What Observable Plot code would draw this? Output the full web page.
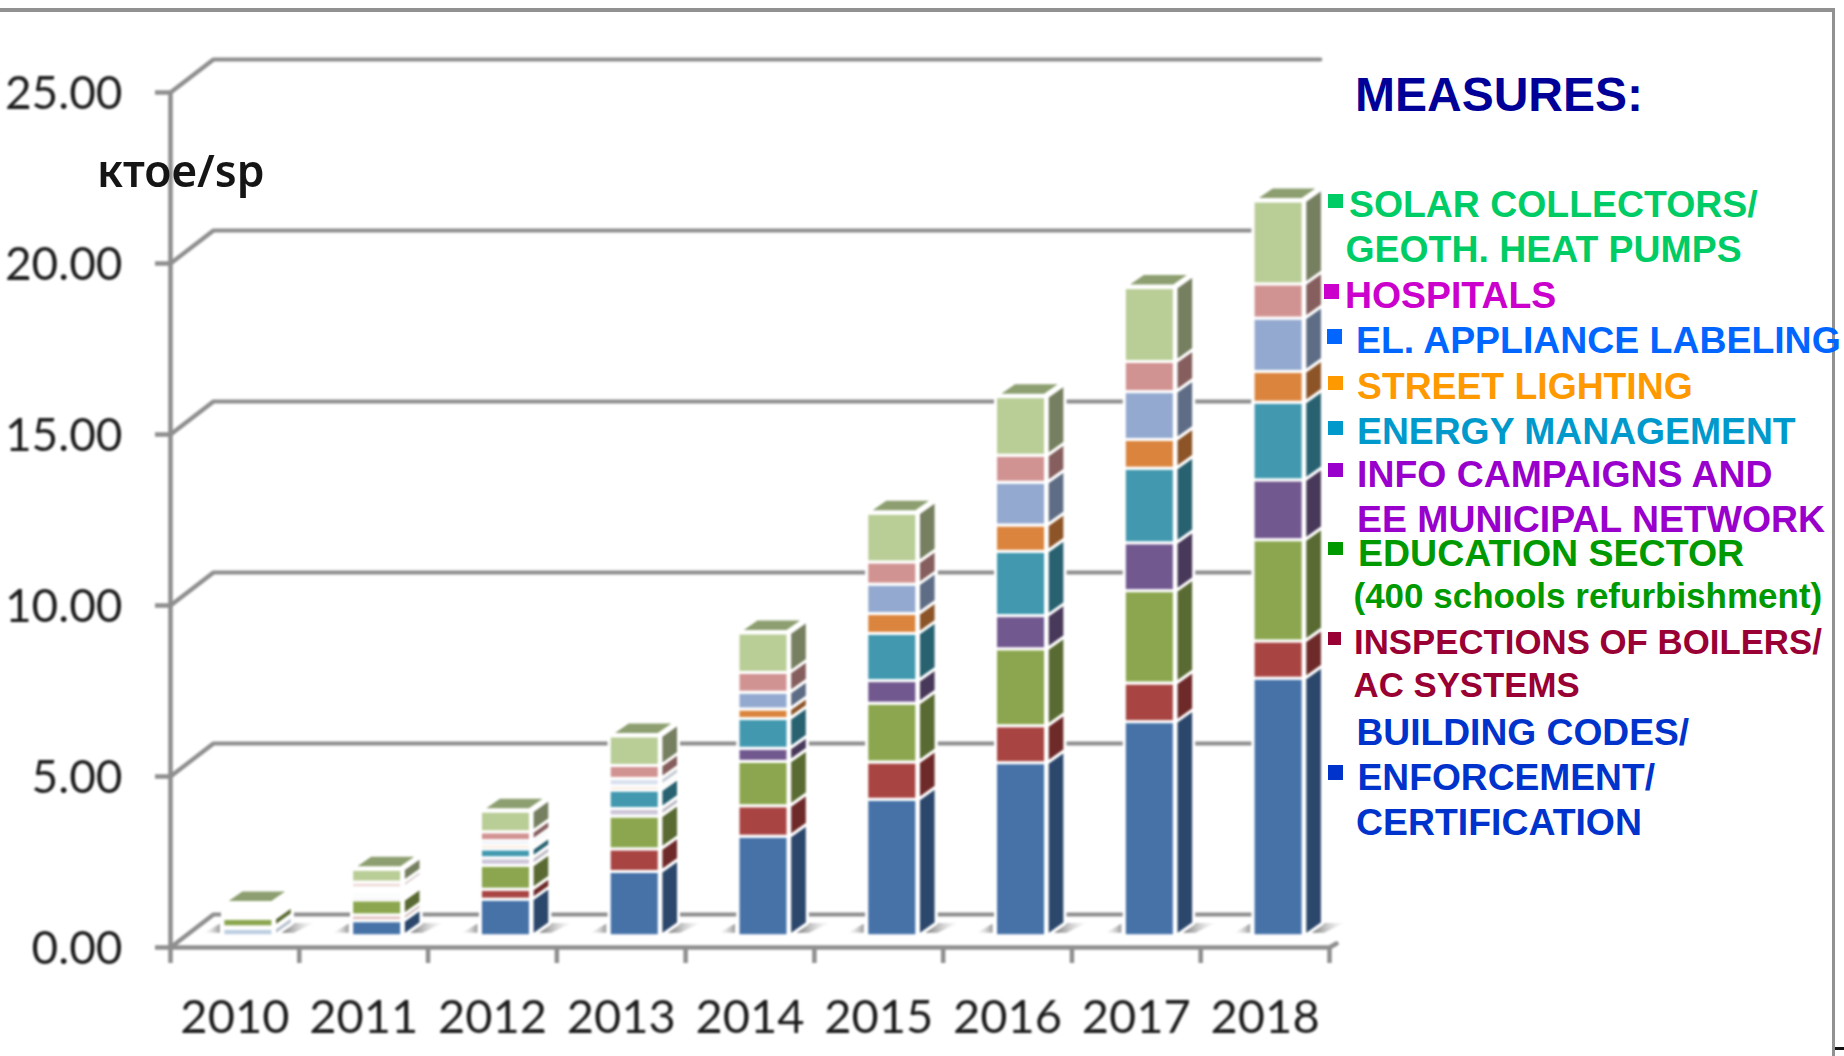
<!DOCTYPE html>
<html>
<head>
<meta charset="utf-8">
<title>Measures</title>
<script src="https://cdn.jsdelivr.net/npm/d3@7"></script>
<script src="https://cdn.jsdelivr.net/npm/@observablehq/plot@0.6"></script>
<style>
html,body{margin:0;padding:0;background:#fff;overflow:hidden}
#page{position:relative;width:1844px;height:1056px;overflow:hidden;background:#fff}
#chart{position:absolute;left:0;top:0}
#chart svg{filter:blur(0.8px)}
.lg{position:absolute;white-space:nowrap;font-family:"Liberation Sans",Arial,sans-serif;font-weight:700;line-height:1}
.sq{position:absolute}
.fr{position:absolute;background:#919191}
#unit{position:absolute;left:97px;top:148px;font:600 44.5px/1 "Noto Sans",sans-serif;color:#151515;filter:blur(0.6px)}
</style>
</head>
<body>
<div id="page"><div id="chart"></div></div>
<script>
// ---- data (ktoe/sp) ----
const years = [2010, 2011, 2012, 2013, 2014, 2015, 2016, 2017, 2018];
const buildingCodes = [0.22, 0.44, 1.07, 1.88, 2.91, 3.99, 5.06, 6.26, 7.53];
const inspections   = [0.04, 0.17, 0.29, 0.66, 0.89, 1.09, 1.08, 1.13, 1.09];
const education     = [0.25, 0.44, 0.70, 0.96, 1.30, 1.72, 2.25, 2.70, 2.96];
const infoCampaigns = [0.09, 0.10, 0.22, 0.22, 0.38, 0.66, 0.97, 1.40, 1.75];
const energyMgmt    = [0.08, 0.10, 0.26, 0.54, 0.87, 1.38, 1.88, 2.18, 2.27];
const streetLight   = [0.05, 0.08, 0.12, 0.12, 0.28, 0.58, 0.77, 0.84, 0.90];
const labeling      = [0.05, 0.07, 0.12, 0.22, 0.49, 0.86, 1.25, 1.40, 1.56];
const hospitals     = [0.07, 0.17, 0.26, 0.38, 0.58, 0.65, 0.79, 0.88, 1.00];
const solar         = [0.08, 0.37, 0.60, 0.86, 1.15, 1.42, 1.71, 2.16, 2.42];
const yTicks = [0, 5, 10, 15, 20, 25];
const unitLabel = "ктое/sp";
const legendTitle = "MEASURES:";
const legendLines = [
  "SOLAR COLLECTORS/", "GEOTH. HEAT PUMPS", "HOSPITALS", "EL. APPLIANCE LABELING",
  "STREET LIGHTING", "ENERGY MANAGEMENT", "INFO CAMPAIGNS AND", "EE MUNICIPAL NETWORK",
  "EDUCATION SECTOR", "(400 schools refurbishment)", "INSPECTIONS OF BOILERS/", "AC SYSTEMS",
  "BUILDING CODES/", "ENFORCEMENT/", "CERTIFICATION"
];

// ---- styles ----
const stackOrder = [buildingCodes, inspections, education, infoCampaigns, energyMgmt, streetLight, labeling, hospitals, solar];
const frontColors = ["#4672a8", "#a84442", "#8ba64e", "#71588f", "#4198af", "#db843d", "#93a9cf", "#d19392", "#b9cd96"];
const sideColors  = ["#2c476c", "#6e2a29", "#596a32", "#483859", "#286170", "#8c5427", "#5e6c85", "#855e5d", "#767f60"];
const topColor = "#8d9f70";
const gridColor = "#8e8e8e";

// ---- chart geometry, in scale units (years on x, ktoe/sp on y) ----
const pxX = 128.8, pxY = 34.2;       // pixels per unit
const xStart = 2009.5, xEnd = 2018.5;
const wallDx = 43 / pxX, wallDy = 33 / pxY, wallEnd = xStart + 1150 / pxX;
const barOffset = 13.5 / pxX, barW = 50 / pxX, gap = 1.7 / pxX, sideDx = 17.6 / pxX, sideDy = 12.5 / pxY;
const barBase = 0.33;
const thin = 0.23;                   // segments this small wash out in the picture
const washed = h => (h < thin ? 0.35 : 1);

const rows = [];
years.forEach((year, i) => {
  let acc = barBase;
  stackOrder.forEach((series, s) => {
    rows.push({year, s, y1: acc, y2: acc + series[i], front: frontColors[s], side: sideColors[s], op: washed(series[i])});
    acc += series[i];
  });
});
const x0 = year => year + barOffset - barW / 2;
const x1 = year => year + barOffset + barW / 2;

const sides = rows.flatMap(r => [
  {key: r.year + "-" + r.s, c: r.side, op: r.op, x: x1(r.year) + gap, y1: r.y1, y2: r.y2},
  {key: r.year + "-" + r.s, c: r.side, op: r.op, x: x1(r.year) + gap + sideDx, y1: r.y1 + sideDy, y2: r.y2 + sideDy}
]);
const tops = years.flatMap((year, i) => {
  const t = d3.sum(stackOrder, s => s[i]) + barBase + 1.5 / pxY;
  const dx = 18 / pxX;
  return [
    {year, x: x0(year) + 1 / pxX, y1: t, y2: t},
    {year, x: x0(year) + 1 / pxX + dx, y1: t, y2: t + sideDy},
    {year, x: x1(year) - 1 / pxX, y1: t, y2: t + sideDy},
    {year, x: x1(year) - 1 / pxX + dx, y1: t + sideDy, y2: t + sideDy}
  ];
});
const shadowsRight = years.flatMap(year => [
  {year, x: x0(year) + 57 / pxX, y1: 0.42, y2: 0.42},
  {year, x: x0(year) + 67 / pxX, y1: 0.42, y2: 0.70},
  {year, x: x0(year) + 71 / pxX, y1: 0.42, y2: 0.70},
  {year, x: x0(year) + 91 / pxX, y1: 0.70, y2: 0.70}
]);
const shadowsLeft = years.flatMap(year => [
  {year, x: x0(year) - 19 / pxX, y1: 0.42, y2: 0.42},
  {year, x: x0(year) - 3 / pxX, y1: 0.42, y2: 0.68}
]);
const wall = yTicks.flatMap(v => [
  {v, x: xStart, y: v},
  {v, x: xStart + wallDx, y: v + wallDy},
  {v, x: wallEnd, y: v + wallDy}
]);
const floorFront = [
  {x: xStart, y: 0}, {x: xEnd, y: 0}, {x: xEnd + 7 / pxX, y: 4 / pxY}
];
const boundaries = d3.range(xStart, xEnd + 0.5, 1);

const defs = () => {
  const d = d3.create("svg:defs");
  const g1 = d.append("linearGradient").attr("id", "shR");
  g1.append("stop").attr("offset", "0").attr("stop-color", "#666");
  g1.append("stop").attr("offset", "1").attr("stop-color", "#ddd").attr("stop-opacity", 0.15);
  const g2 = d.append("linearGradient").attr("id", "shL");
  g2.append("stop").attr("offset", "0").attr("stop-color", "#eee").attr("stop-opacity", 0.2);
  g2.append("stop").attr("offset", "1").attr("stop-color", "#999");
  return d.node();
};

const chart = Plot.plot({
  width: 1844, height: 1056,
  marginLeft: 170, marginRight: 515, marginTop: 92, marginBottom: 109,
  style: {background: "transparent", overflow: "visible"},
  x: {type: "linear", domain: [xStart, xEnd], axis: null},
  y: {type: "linear", domain: [0, 25], axis: null},
  color: {type: "identity"},
  marks: [
    defs,
    Plot.line(wall, {x: "x", y: "y", z: "v", stroke: gridColor, strokeWidth: 4.2, strokeLinejoin: "miter", curve: "linear"}),
    Plot.area(shadowsRight, {x1: "x", y1: "y1", y2: "y2", z: "year", fill: "url(#shR)", curve: "linear"}),
    Plot.area(shadowsLeft, {x1: "x", y1: "y1", y2: "y2", z: "year", fill: "url(#shL)", curve: "linear"}),
    Plot.area(tops, {x1: "x", y1: "y1", y2: "y2", z: "year", fill: topColor, stroke: "#fff", strokeWidth: 3, curve: "linear"}),
    Plot.area(sides, {x1: "x", y1: "y1", y2: "y2", z: "key", fill: "#fff", stroke: "#fff", strokeWidth: 3, curve: "linear"}),
    Plot.area(sides, {x1: "x", y1: "y1", y2: "y2", z: "key", fill: "c", fillOpacity: "op", stroke: "#fff", strokeWidth: 3, curve: "linear"}),
    Plot.rect(rows, {x1: d => x0(d.year), x2: d => x1(d.year), y1: "y1", y2: "y2", fill: "#fff", stroke: "#fff", strokeWidth: 3}),
    Plot.rect(rows, {x1: d => x0(d.year), x2: d => x1(d.year), y1: "y1", y2: "y2", fill: "front", fillOpacity: "op", stroke: "#fff", strokeWidth: 3}),
    Plot.ruleX([xStart], {y1: 0, y2: 25, stroke: gridColor, strokeWidth: 4.5}),
    Plot.line(floorFront, {x: "x", y: "y", stroke: gridColor, strokeWidth: 4.5, curve: "linear"}),
    Plot.axisY({ticks: yTicks, tickSize: 15, tickFormat: () => "", stroke: gridColor, strokeWidth: 4.5, label: null}),
    Plot.axisY({ticks: yTicks, tickSize: 0, tickPadding: 48, dy: 2, tickFormat: d => d.toFixed(2),
      fill: "#1c1c1c", fontSize: 46, fontFamily: "Lato", label: null}),
    Plot.axisX({ticks: boundaries, tickSize: 16, tickFormat: () => "", stroke: gridColor, strokeWidth: 4.5, label: null}),
    Plot.axisX({ticks: years, tickSize: 0, tickPadding: 52, tickFormat: d => String(d),
      fill: "#1c1c1c", fontSize: 47, fontFamily: "Lato", label: null})
  ]
});
document.getElementById("chart").append(chart);

// ---- legend and frame, placed over the plot ----
const page = document.getElementById("page");
const addFrame = (l, t, w, h, bg) => {
  const e = document.createElement("div");
  e.className = "fr";
  e.style.cssText = `left:${l}px;top:${t}px;width:${w}px;height:${h}px` + (bg ? `;background:${bg}` : "");
  page.append(e);
};
addFrame(0, 8, 1834, 4);
addFrame(1832, 8, 3, 1048);
addFrame(1835, 1047, 9, 3, "#111");

const unit = document.createElement("div");
unit.id = "unit";
unit.textContent = unitLabel;
page.append(unit);

const addText = (text, left, baseline, size, color) => {
  const e = document.createElement("div");
  e.className = "lg";
  e.textContent = text;
  e.style.cssText = `left:${left}px;top:${baseline - 0.8465 * size}px;font-size:${size}px;color:${color}`;
  page.append(e);
};
addText(legendTitle, 1355, 112, 48, "#000099");
const lineLayout = [
  [1349, 218, 37.4, "#00cc66"], [1345.5, 263, 37.4, "#00cc66"], [1345, 309, 37.4, "#cc00cc"],
  [1356, 354, 37.4, "#0066ff"], [1357, 400, 37.3, "#ff9900"], [1357, 445, 37.3, "#0099cc"],
  [1357, 488, 37.4, "#9900cc"], [1357, 533, 37.4, "#9900cc"], [1358, 566.5, 37.5, "#009900"],
  [1353.5, 608, 35, "#009900"], [1354, 654.5, 34.8, "#990033"], [1353.5, 697, 34.8, "#990033"],
  [1356.5, 745, 37.2, "#0033cc"], [1357.5, 790, 37.2, "#0033cc"], [1356, 836, 37.4, "#0033cc"]
];
legendLines.forEach((t, i) => addText(t, ...lineLayout[i]));
const squares = [
  [1328, 194, 15, 14, "#00cc66"], [1324, 284, 15, 15, "#cc00cc"], [1327, 329, 15, 15, "#0066ff"],
  [1328, 376, 15, 14, "#ff9900"], [1328, 421, 15, 14, "#0099cc"], [1328, 463, 15, 14, "#9900cc"],
  [1328, 542, 15, 13, "#009900"], [1328, 632, 13, 13, "#990033"], [1328, 765, 15, 15, "#0033cc"]
];
squares.forEach(([l, t, w, h, c]) => {
  const e = document.createElement("div");
  e.className = "sq";
  e.style.cssText = `left:${l}px;top:${t}px;width:${w}px;height:${h}px;background:${c}`;
  page.append(e);
});
</script>
</body>
</html>
